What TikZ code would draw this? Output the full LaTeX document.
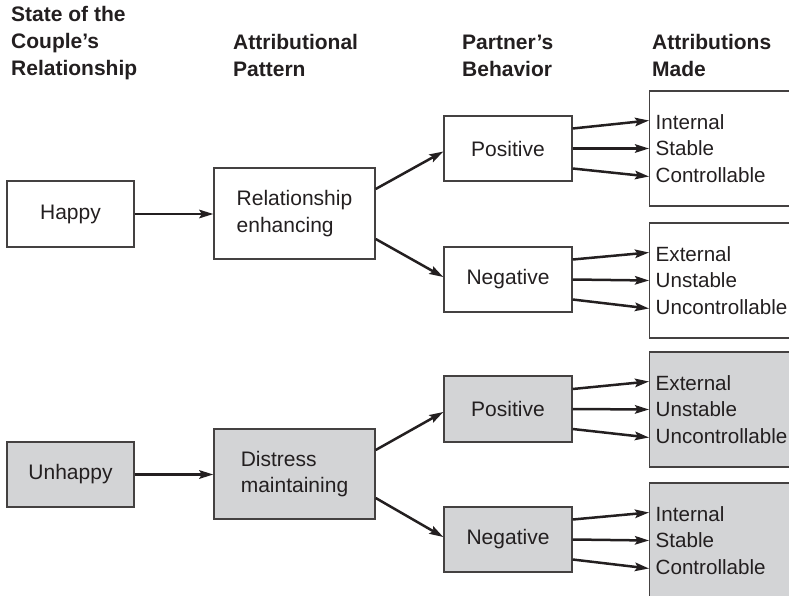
\documentclass[tikz,border=0pt]{standalone}
\usepackage{fontspec}
\setmainfont{Liberation Sans}
\usetikzlibrary{arrows.meta}
\definecolor{boxgray}{RGB}{211,212,214}
\definecolor{inkgray}{RGB}{35,31,32}

\begin{document}
\begin{tikzpicture}[x=1pt, y=-1pt,
  hdr/.style={anchor=north west, inner sep=0pt, align=left, text=inkgray,
    font=\bfseries\fontsize{21}{27}\selectfont},
  box/.style={draw=inkgray!85, line width=1.4pt, inner sep=0pt, align=left,
    text=inkgray, font=\fontsize{21}{26.5}\selectfont},
  shaded/.style={box, fill=boxgray},
  attbox/.style={box, anchor=west, minimum height=115pt, text width=140pt,
    inner xsep=6pt, font=\fontsize{20.6}{26.5}\selectfont},
  arr/.style={draw=inkgray, line width=2.5pt,
    -{Stealth[length=14pt, width=8.5pt, inset=2.5pt]}}]

\useasboundingbox (0,0) rectangle (789,596);
\clip (0,0) rectangle (789,596);

% -------- column heads -----------
\node[hdr] (hstate)  at (11, 6.5)   {State of the\\Couple's\\Relationship};
\node[hdr] (hpatt)   at (233, 34.5) {Attributional\\Pattern};
\node[hdr] (hbehav)  at (462, 34.5) {Partner's\\Behavior};
\node[hdr] (hmade)   at (652, 34.5) {Attributions\\Made};

% -------- happy couple -----------
\node[box, minimum width=127pt, minimum height=66pt] (happy)   at (70.5, 214)   {Happy};
\node[box, minimum width=161pt, minimum height=91pt] (enhance) at (294.5, 213.5) {Relationship\\enhancing};
\node[box, minimum width=128pt, minimum height=65pt] (pos1)    at (508, 148.5)  {Positive};
\node[box, minimum width=128pt, minimum height=65pt] (neg1)    at (508, 279.5)  {Negative};
\node[attbox] (att1) at (649, 148.5) {Internal\\Stable\\Controllable};
\node[attbox] (att2) at (649, 280.5) {External\\Unstable\\Uncontrollable};

\draw[arr] (happy.east) -- (enhance.west |- happy.east);
\draw[arr] ([yshift=24.5pt]enhance.east) -- ([yshift=-3pt]pos1.west);
\draw[arr] ([yshift=-25.5pt]enhance.east) -- ([yshift=2.5pt]neg1.west);

\draw[arr] ([yshift=20pt]pos1.east) -- ([yshift=28pt]att1.west);
\draw[arr] (pos1.east) -- (att1.west);
\draw[arr] ([yshift=-20pt]pos1.east) -- ([yshift=-28pt]att1.west);
\draw[arr] ([yshift=20pt]neg1.east) -- ([yshift=28pt]att2.west);
\draw[arr] (neg1.east) -- (att2.west);
\draw[arr] ([yshift=-20pt]neg1.east) -- ([yshift=-28pt]att2.west);

% -------- unhappy couple -----------
\node[shaded, minimum width=127pt, minimum height=65pt] (unhappy)  at (70.5, 474.5) {Unhappy};
\node[shaded, minimum width=161pt, minimum height=90pt] (distress) at (294.5, 474)  {Distress\\maintaining};
\node[shaded, minimum width=128pt, minimum height=66pt] (pos2)     at (508, 409)    {Positive};
\node[shaded, minimum width=128pt, minimum height=65pt] (neg2)     at (508, 539.5)  {Negative};
\node[attbox, fill=boxgray] (att3) at (649, 409.5) {External\\Unstable\\Uncontrollable};
\node[attbox, fill=boxgray] (att4) at (649, 540.5) {Internal\\Stable\\Controllable};

\draw[arr] (unhappy.east) -- (distress.west |- unhappy.east);
\draw[arr] ([yshift=24pt]distress.east) -- ([yshift=-3pt]pos2.west);
\draw[arr] ([yshift=-24pt]distress.east) -- ([yshift=2.5pt]neg2.west);

\draw[arr] ([yshift=20pt]pos2.east) -- ([yshift=28pt]att3.west);
\draw[arr] (pos2.east) -- (att3.west);
\draw[arr] ([yshift=-20pt]pos2.east) -- ([yshift=-28pt]att3.west);
\draw[arr] ([yshift=20pt]neg2.east) -- ([yshift=28pt]att4.west);
\draw[arr] (neg2.east) -- (att4.west);
\draw[arr] ([yshift=-20pt]neg2.east) -- ([yshift=-28pt]att4.west);

\end{tikzpicture}
\end{document}
